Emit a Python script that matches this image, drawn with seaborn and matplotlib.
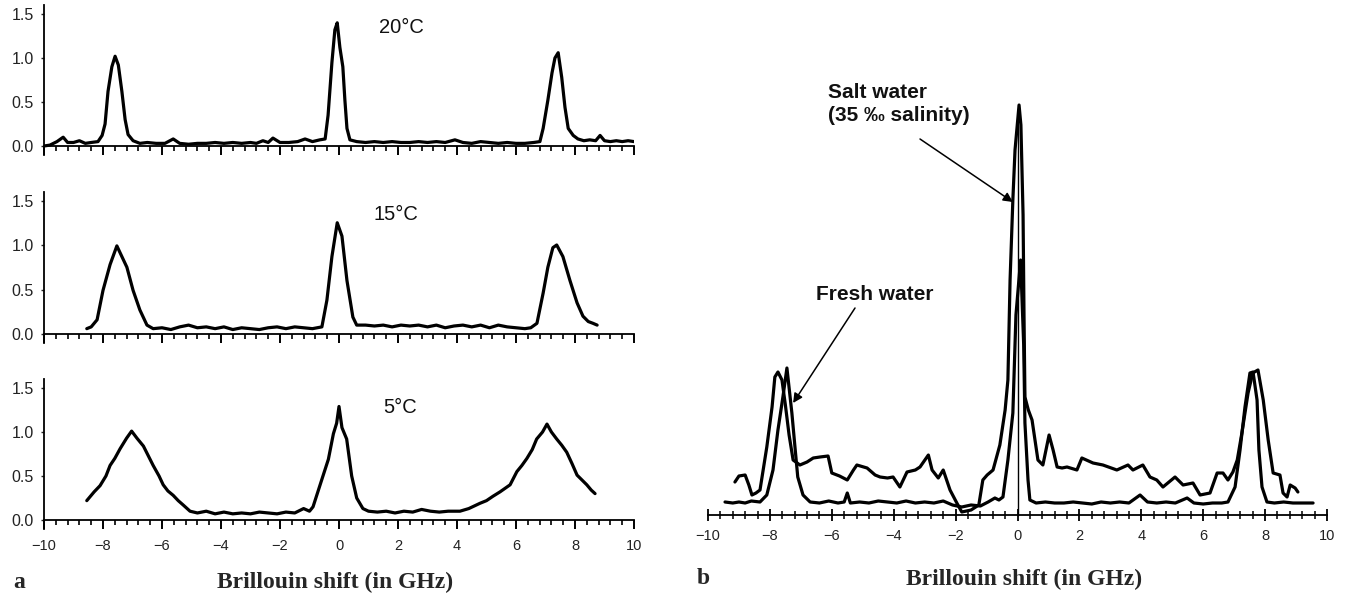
import numpy as np
import pandas as pd
import matplotlib
matplotlib.use("Agg")
import matplotlib.pyplot as plt
from matplotlib.ticker import MultipleLocator
import seaborn as sns

# ---------------- data ----------------
shift_20 = [-10.0, -9.8, -9.56, -9.35, -9.2, -9.0, -8.8, -8.6, -8.4, -8.17,
            -8.03, -7.93, -7.83, -7.7, -7.59, -7.48, -7.36, -7.25, -7.15, -6.98,
            -6.75, -6.5, -6.2, -5.9, -5.62, -5.4, -5.1, -4.8, -4.5, -4.2,
            -3.9, -3.6, -3.3, -3.0, -2.8, -2.58, -2.4, -2.24, -2.0, -1.7,
            -1.4, -1.15, -0.9, -0.65, -0.47, -0.37, -0.24, -0.14, -0.06, 0.03,
            0.13, 0.2, 0.27, 0.37, 0.6, 0.9, 1.2, 1.5, 1.8, 2.1,
            2.4, 2.7, 3.0, 3.3, 3.6, 3.93, 4.2, 4.5, 4.8, 5.1,
            5.4, 5.7, 6.0, 6.3, 6.6, 6.81, 6.92, 7.08, 7.22, 7.32,
            7.43, 7.55, 7.66, 7.77, 7.94, 8.1, 8.3, 8.5, 8.7, 8.85,
            9.0, 9.2, 9.4, 9.6, 9.8, 10.0]
int_20 = [0.0, 0.01, 0.05, 0.10, 0.04, 0.04, 0.06, 0.03, 0.04, 0.05,
          0.12, 0.25, 0.62, 0.90, 1.02, 0.92, 0.62, 0.30, 0.13, 0.06,
          0.03, 0.04, 0.03, 0.03, 0.08, 0.03, 0.02, 0.03, 0.03, 0.04,
          0.03, 0.04, 0.03, 0.04, 0.03, 0.06, 0.04, 0.09, 0.04, 0.04,
          0.05, 0.08, 0.05, 0.07, 0.08, 0.35, 0.95, 1.32, 1.40, 1.12,
          0.90, 0.52, 0.20, 0.07, 0.05, 0.04, 0.05, 0.04, 0.05, 0.04,
          0.04, 0.05, 0.04, 0.05, 0.04, 0.07, 0.04, 0.03, 0.05, 0.04,
          0.03, 0.04, 0.03, 0.03, 0.04, 0.05, 0.20, 0.52, 0.83, 1.00,
          1.06, 0.78, 0.44, 0.20, 0.12, 0.08, 0.06, 0.07, 0.06, 0.12,
          0.06, 0.05, 0.06, 0.05, 0.06, 0.05]

shift_15 = [-8.55, -8.4, -8.2, -8.0, -7.76, -7.53, -7.36, -7.19, -6.98, -6.75,
            -6.51, -6.3, -6.0, -5.7, -5.4, -5.1, -4.8, -4.5, -4.2, -3.9,
            -3.6, -3.3, -3.0, -2.7, -2.4, -2.1, -1.8, -1.5, -1.2, -0.9,
            -0.58, -0.41, -0.24, -0.06, 0.1, 0.27, 0.47, 0.6, 0.9, 1.2,
            1.5, 1.8, 2.1, 2.4, 2.7, 3.0, 3.3, 3.6, 3.9, 4.2,
            4.5, 4.8, 5.1, 5.4, 5.7, 6.0, 6.3, 6.5, 6.71, 6.92,
            7.08, 7.25, 7.38, 7.59, 7.83, 8.07, 8.27, 8.45, 8.61, 8.75]
int_15 = [0.06, 0.08, 0.16, 0.49, 0.78, 0.99, 0.87, 0.75, 0.49, 0.27,
          0.10, 0.06, 0.07, 0.05, 0.08, 0.10, 0.07, 0.08, 0.06, 0.08,
          0.05, 0.07, 0.06, 0.05, 0.07, 0.08, 0.06, 0.08, 0.07, 0.06,
          0.08, 0.38, 0.87, 1.25, 1.10, 0.60, 0.19, 0.10, 0.10, 0.09,
          0.10, 0.08, 0.10, 0.09, 0.10, 0.08, 0.10, 0.07, 0.09, 0.10,
          0.08, 0.10, 0.07, 0.10, 0.08, 0.07, 0.06, 0.07, 0.12, 0.46,
          0.75, 0.97, 1.00, 0.87, 0.60, 0.35, 0.20, 0.14, 0.12, 0.10]

shift_5 = [-8.55, -8.3, -8.1, -7.9, -7.76, -7.6, -7.42, -7.2, -7.03, -6.85,
           -6.63, -6.45, -6.3, -6.1, -5.96, -5.8, -5.62, -5.45, -5.28, -5.05,
           -4.8, -4.5, -4.2, -3.9, -3.6, -3.3, -3.0, -2.7, -2.4, -2.1,
           -1.8, -1.5, -1.2, -1.0, -0.88, -0.64, -0.36, -0.19, -0.08, 0.0,
           0.1, 0.26, 0.43, 0.6, 0.81, 1.0, 1.3, 1.6, 1.9, 2.2,
           2.5, 2.8, 3.1, 3.4, 3.7, 4.1, 4.4, 4.78, 5.0, 5.22,
           5.46, 5.8, 6.03, 6.2, 6.37, 6.55, 6.7, 6.9, 7.05, 7.2,
           7.38, 7.55, 7.72, 7.9, 8.07, 8.25, 8.4, 8.55, 8.68]
int_5 = [0.22, 0.32, 0.39, 0.50, 0.62, 0.70, 0.81, 0.93, 1.01, 0.93,
         0.84, 0.72, 0.62, 0.50, 0.40, 0.33, 0.28, 0.22, 0.17, 0.10,
         0.08, 0.10, 0.07, 0.09, 0.07, 0.08, 0.07, 0.09, 0.08, 0.07,
         0.09, 0.08, 0.13, 0.10, 0.15, 0.40, 0.69, 0.98, 1.10, 1.29,
         1.05, 0.92, 0.50, 0.25, 0.13, 0.10, 0.09, 0.10, 0.08, 0.10,
         0.09, 0.12, 0.10, 0.09, 0.10, 0.10, 0.13, 0.19, 0.22, 0.27,
         0.32, 0.40, 0.55, 0.62, 0.70, 0.80, 0.92, 1.00, 1.09, 1.00,
         0.92, 0.85, 0.77, 0.64, 0.51, 0.45, 0.40, 0.34, 0.30]

shift_salt = [-9.13, -9.0, -8.8, -8.68, -8.58, -8.45, -8.32, -8.1, -7.93, -7.84,
              -7.74, -7.61, -7.5, -7.38, -7.25, -7.03, -6.8, -6.6, -6.38, -6.12,
              -6.0, -5.75, -5.5, -5.3, -5.19, -4.86, -4.6, -4.44, -4.2, -4.02,
              -3.8, -3.57, -3.3, -3.15, -2.88, -2.76, -2.56, -2.4, -2.18, -1.96,
              -1.8, -1.5, -1.25, -1.12, -0.98, -0.79, -0.57, -0.4, -0.31, -0.24,
              -0.15, -0.08, 0.05, 0.11, 0.18, 0.21, 0.24, 0.35, 0.47, 0.66,
              0.82, 1.02, 1.15, 1.28, 1.44, 1.6, 1.92, 2.08, 2.44, 2.76,
              3.21, 3.57, 3.73, 4.05, 4.28, 4.5, 4.7, 5.09, 5.35, 5.67,
              5.9, 6.22, 6.45, 6.64, 6.8, 6.96, 7.1, 7.25, 7.45, 7.6,
              7.77, 7.94, 8.1, 8.26, 8.48, 8.58, 8.71, 8.81, 8.97, 9.06]
int_salt = [0.33, 0.39, 0.40, 0.30, 0.20, 0.22, 0.25, 0.68, 1.08, 1.38,
            1.43, 1.35, 1.10, 0.80, 0.55, 0.50, 0.53, 0.57, 0.58, 0.59,
            0.42, 0.39, 0.35, 0.45, 0.50, 0.47, 0.40, 0.38, 0.37, 0.38,
            0.28, 0.43, 0.45, 0.48, 0.60, 0.45, 0.37, 0.45, 0.25, 0.12,
            0.03, 0.05, 0.10, 0.35, 0.40, 0.45, 0.70, 1.05, 1.35, 2.35,
            3.15, 3.65, 4.10, 3.90, 3.00, 2.00, 1.18, 1.05, 0.95, 0.55,
            0.50, 0.80, 0.65, 0.48, 0.47, 0.48, 0.45, 0.57, 0.52, 0.50,
            0.45, 0.50, 0.45, 0.50, 0.38, 0.35, 0.28, 0.38, 0.30, 0.32,
            0.20, 0.22, 0.42, 0.42, 0.35, 0.43, 0.55, 0.82, 1.22, 1.42,
            1.45, 1.15, 0.75, 0.42, 0.40, 0.22, 0.18, 0.30, 0.27, 0.23]

shift_fresh = [-9.45, -9.2, -9.0, -8.8, -8.6, -8.32, -8.1, -7.9, -7.74, -7.58,
               -7.45, -7.29, -7.19, -7.1, -6.93, -6.7, -6.4, -6.1, -5.8, -5.6,
               -5.5, -5.4, -5.1, -4.8, -4.5, -4.2, -3.9, -3.6, -3.3, -3.0,
               -2.7, -2.4, -2.1, -1.8, -1.5, -1.2, -0.95, -0.73, -0.6, -0.47,
               -0.31, -0.15, -0.05, 0.1, 0.2, 0.24, 0.34, 0.4, 0.6, 0.9,
               1.2, 1.5, 1.8, 2.1, 2.4, 2.7, 3.0, 3.3, 3.6, 3.96,
               4.2, 4.5, 4.8, 5.1, 5.48, 5.7, 6.0, 6.3, 6.6, 6.8,
               7.03, 7.19, 7.35, 7.51, 7.61, 7.74, 7.8, 7.9, 8.06, 8.3,
               8.6, 8.9, 9.2, 9.55]
int_fresh = [0.13, 0.12, 0.13, 0.12, 0.14, 0.13, 0.20, 0.45, 0.85, 1.18,
             1.47, 1.02, 0.68, 0.38, 0.20, 0.13, 0.12, 0.14, 0.12, 0.13,
             0.22, 0.12, 0.13, 0.12, 0.14, 0.13, 0.12, 0.14, 0.12, 0.13,
             0.12, 0.14, 0.10, 0.08, 0.10, 0.09, 0.13, 0.17, 0.15, 0.18,
             0.55, 1.02, 2.00, 2.55, 1.70, 0.92, 0.35, 0.15, 0.12, 0.13,
             0.12, 0.12, 0.13, 0.12, 0.11, 0.13, 0.12, 0.13, 0.12, 0.20,
             0.13, 0.12, 0.13, 0.12, 0.17, 0.12, 0.11, 0.12, 0.12, 0.13,
             0.28, 0.65, 1.08, 1.42, 1.43, 1.15, 0.65, 0.28, 0.13, 0.12,
             0.13, 0.12, 0.12, 0.12]

temps = ["20°C", "15°C", "5°C"]
ytick_vals = [0.0, 0.5, 1.0, 1.5]
ytick_labels = ["0.0", "0.5", "1.0", "1.5"]
xlabel = "Brillouin shift (in GHz)"
salt_label = "Salt water\n(35 ‰ salinity)"
fresh_label = "Fresh water"

for a, b in [(shift_20, int_20), (shift_15, int_15), (shift_5, int_5),
             (shift_salt, int_salt), (shift_fresh, int_fresh)]:
    assert len(a) == len(b), (len(a), len(b))

# ---------------- style ----------------
sns.set_style("ticks")
plt.rcParams['font.family'] = ['Liberation Sans', 'DejaVu Sans']
plt.rcParams['axes.edgecolor'] = 'black'

W, H = 1351, 596
fig = plt.figure(figsize=(W / 100, H / 100), dpi=100)


def add_axes_px(left, right, top, bottom):
    return fig.add_axes([left / W, 1 - bottom / H, (right - left) / W, (bottom - top) / H])


LW = 2.3
left_panels = [
    (shift_20, int_20, 146, 88),
    (shift_15, int_15, 334, 89),
    (shift_5, int_5, 520, 88),
]
temp_pos = [(2.1, 1.35), (1.93, 1.34), (2.07, 1.28)]

for i, (xs, ys, zero_px, ppu) in enumerate(left_panels):
    ax = add_axes_px(44, 634, zero_px - 1.6 * ppu, zero_px + 0.1 * ppu)
    df = pd.DataFrame({"shift": xs, "intensity": ys})
    sns.lineplot(data=df, x="shift", y="intensity", ax=ax, color="black",
                 lw=LW, estimator=None, sort=False)
    ax.set_xlim(-10, 10)
    ax.set_ylim(-0.1, 1.6)
    ax.set_xlabel("")
    ax.set_ylabel("")
    for s in ["top", "right"]:
        ax.spines[s].set_visible(False)
    ax.spines["bottom"].set_position(("data", 0))
    ax.spines["bottom"].set_linewidth(1.3)
    ax.spines["left"].set_linewidth(1.3)
    ax.xaxis.set_major_locator(MultipleLocator(2))
    ax.xaxis.set_minor_locator(MultipleLocator(0.4))
    ax.tick_params(axis="x", which="major", direction="out", length=6.5, width=1.4,
                   color="black", labelsize=10.5, labelcolor="#222222", pad=7,
                   labelbottom=(i == 2))
    ax.tick_params(axis="x", which="minor", direction="out", length=3.6, width=1.2,
                   color="black")
    ax.set_yticks(ytick_vals)
    ax.set_yticklabels(ytick_labels)
    ax.tick_params(axis="y", which="major", direction="out", length=2.5, width=1.0,
                   labelsize=11.5, labelcolor="#222222", pad=5)
    tx, ty = temp_pos[i]
    ax.text(tx, ty, temps[i], ha="center", va="center", fontsize=14.5, color="#111111")

# right panel
axr = add_axes_px(708, 1327, 80, 525)
sns.lineplot(x=shift_salt, y=int_salt, ax=axr, color="black", lw=LW,
             estimator=None, sort=False)
sns.lineplot(x=shift_fresh, y=int_fresh, ax=axr, color="black", lw=LW,
             estimator=None, sort=False)
axr.set_xlim(-10, 10)
axr.set_ylim(-0.1, 4.35)
for s in ["top", "right"]:
    axr.spines[s].set_visible(False)
axr.spines["bottom"].set_position(("data", 0))
axr.spines["bottom"].set_linewidth(1.3)
axr.spines["left"].set_position(("data", 0))
axr.spines["left"].set_linewidth(1.0)
axr.spines["left"].set_bounds(0, 4.0)
axr.set_yticks([])
axr.xaxis.set_major_locator(MultipleLocator(2))
axr.xaxis.set_minor_locator(MultipleLocator(0.4))
axr.tick_params(axis="x", which="major", direction="inout", length=8.5, width=1.3,
                color="black", labelsize=10.5, labelcolor="#222222", pad=6)
axr.tick_params(axis="x", which="minor", direction="inout", length=5.5, width=1.1,
                color="black")

axr.text(-6.12, 4.32, salt_label, ha="left", va="top", fontsize=15,
         fontweight="bold", linespacing=1.25, color="#111111")
axr.annotate("", xy=(-0.15, 3.13), xytext=(-3.15, 3.76), annotation_clip=False,
             arrowprops=dict(arrowstyle="-|>", color="black", lw=1.1,
                             mutation_scale=14, shrinkA=0, shrinkB=0))
axr.text(-4.6, 2.2, fresh_label, ha="center", va="center", fontsize=15,
         fontweight="bold", color="#111111")
axr.annotate("", xy=(-7.25, 1.12), xytext=(-5.25, 2.07), annotation_clip=False,
             arrowprops=dict(arrowstyle="-|>", color="black", lw=1.1,
                             mutation_scale=14, shrinkA=0, shrinkB=0))

serif = ["Liberation Serif", "DejaVu Serif"]
fig.text(13 / W, 1 - 582 / H, "a", family=serif, weight="bold", fontsize=17,
         ha="left", va="center")
fig.text(697 / W, 1 - 579 / H, "b", family=serif, weight="bold", fontsize=17,
         ha="left", va="center")
fig.text(335 / W, 1 - 582 / H, xlabel, family=serif, weight="bold", fontsize=17,
         ha="center", va="center")
fig.text(1024 / W, 1 - 579 / H, xlabel, family=serif, weight="bold", fontsize=17,
         ha="center", va="center")

fig.savefig("out.png", dpi=100)
